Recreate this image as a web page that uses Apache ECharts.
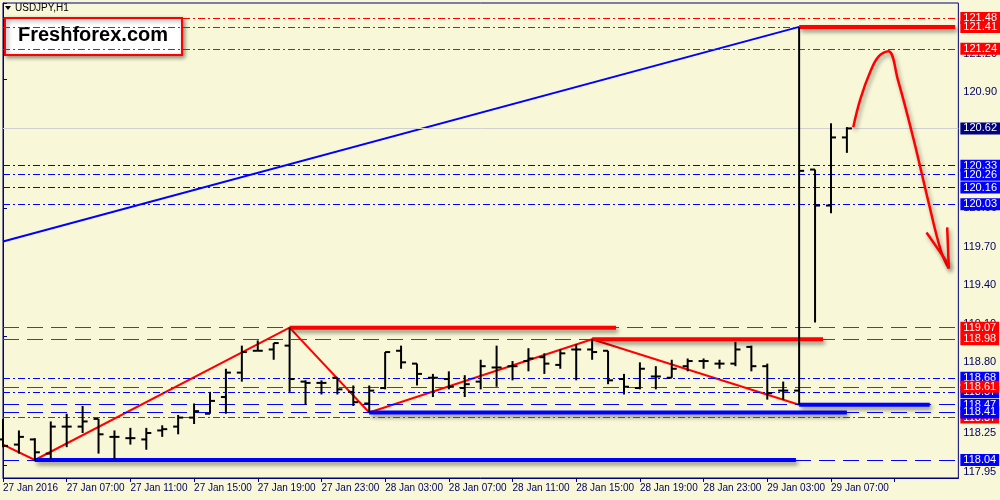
<!DOCTYPE html>
<html><head><meta charset="utf-8">
<script src="https://cdn.jsdelivr.net/npm/echarts@6/dist/echarts.min.js"></script>
<style>html,body{margin:0;padding:0;background:#f8f8d8}#c{width:1000px;height:500px}</style>
</head><body><div id="c"></div>
<script>
// bar index (hours from 27 Jan 03:00), open, high, low, close
const bars = [
[0,118.20,118.36,118.14,118.15],[1,118.16,118.27,118.09,118.22],[2,118.20,118.21,118.03,118.10],
[3,118.09,118.34,118.05,118.30],[4,118.30,118.40,118.14,118.30],[5,118.30,118.46,118.25,118.34],
[6,118.36,118.36,118.09,118.24],[7,118.22,118.27,118.05,118.22],[8,118.21,118.29,118.16,118.21],
[9,118.20,118.29,118.12,118.25],[10,118.27,118.31,118.22,118.28],[11,118.30,118.39,118.24,118.37],
[12,118.37,118.48,118.32,118.42],[13,118.40,118.57,118.40,118.50],[14,118.53,118.75,118.40,118.72],
[15,118.72,118.93,118.65,118.88],[16,118.89,118.97,118.89,118.89],[17,118.90,118.95,118.82,118.95],
[18,118.93,119.07,118.57,118.67],[19,118.65,118.66,118.47,118.64],[20,118.64,118.66,118.55,118.64],
[21,118.68,118.68,118.55,118.59],[22,118.57,118.62,118.46,118.49],[23,118.48,118.62,118.41,118.58],
[24,118.60,118.88,118.59,118.88],[25,118.89,118.93,118.75,118.80],[26,118.79,118.79,118.62,118.71],
[27,118.68,118.71,118.53,118.68],[28,118.67,118.73,118.59,118.61],[29,118.60,118.70,118.53,118.63],
[30,118.65,118.82,118.59,118.77],[31,118.76,118.93,118.61,118.76],[32,118.77,118.81,118.66,118.77],
[33,118.81,118.91,118.73,118.83],[34,118.84,118.87,118.71,118.79],[35,118.78,118.90,118.75,118.87],
[36,118.90,118.94,118.66,118.90],[37,118.90,118.98,118.82,118.88],[38,118.89,118.89,118.63,118.66],
[39,118.67,118.71,118.55,118.61],[40,118.60,118.80,118.59,118.75],[41,118.69,118.77,118.59,118.69],
[42,118.68,118.82,118.68,118.75],[43,118.77,118.83,118.73,118.81],[44,118.81,118.83,118.75,118.81],
[45,118.79,118.82,118.75,118.79],[46,118.79,118.96,118.77,118.90],[47,118.92,118.93,118.73,118.77],
[48,118.77,118.79,118.51,118.56],[49,118.58,118.65,118.51,118.58],[50,118.58,121.41,118.47,120.29],
[51,120.30,120.30,119.11,120.02],[52,120.02,120.66,119.96,120.55],[53,120.55,120.63,120.43,120.62]
];
const xTickLabels = ["27 Jan 2016","27 Jan 07:00","27 Jan 11:00","27 Jan 15:00","27 Jan 19:00","27 Jan 23:00","28 Jan 03:00","28 Jan 07:00","28 Jan 11:00","28 Jan 15:00","28 Jan 19:00","28 Jan 23:00","29 Jan 03:00","29 Jan 07:00"];
const yTickValues = [117.95,118.25,118.55,118.80,119.10,119.40,119.70,120.00,120.30,120.60,120.90,121.20];
// level, colour, style
const levels = [
[121.48,'r','dd'],[121.41,'r','dd'],[121.24,'r','dd'],[120.62,'g','solid'],
[120.33,'b','dd'],[120.26,'b','dd'],[120.16,'b','dd'],[120.03,'b','dd'],
[119.07,'r','dash'],[118.98,'r','dash'],[118.68,'b','dd'],[118.57,'b','dd'],[118.61,'r','dash'],
[118.37,'r','dd'],[118.47,'b','dash'],[118.41,'b','dash'],[118.04,'b','dash']
];
const zigzag = [[0,118.16],[2,118.04],[18,119.07],[23,118.41],[37,118.98],[50,118.47]];
const trendLine = [[0,119.74],[50,121.41]];
// thick horizontal segments [x0,x1,price,colour]
const segments = [[18,38.5,119.07,'r'],[37,51.5,118.98,'r'],[50,59.8,121.41,'r'],
[23,53,118.41,'b'],[2,49.8,118.04,'b'],[50,58.2,118.47,'b']];
const arrowCurve = [[53.4,120.63],[53.85,120.85],[54.5,121.07],[55.0,121.18],[55.6,121.22],[56.2,121.00],[57.2,120.53],[58.1,120.06],[58.9,119.67],[59.4,119.53]];
const arrowHeadA = [[58.0,119.81],[59.4,119.56]];
const arrowHeadB = [[59.3,119.85],[59.4,119.53]];

const C = {r:'#ff0000', b:'#0000ff', g:'#d0d0d0'};
const F = 'Liberation Sans';
const chart = echarts.init(document.getElementById('c'));
const series = [];
series.push({type:'custom', z:5, data:bars, encode:{x:0,y:[1,2,3,4]},
 renderItem:function(p,api){
  const x=api.value(0);
  const o=api.coord([x,api.value(1)]), h=api.coord([x,api.value(2)]), l=api.coord([x,api.value(3)]), c=api.coord([x,api.value(4)]);
  const st={stroke:'#000',lineWidth:2};
  return {type:'group',children:[
   {type:'line',shape:{x1:h[0],y1:h[1],x2:l[0],y2:l[1]},style:st},
   {type:'line',shape:{x1:o[0]-5,y1:o[1],x2:o[0],y2:o[1]},style:st},
   {type:'line',shape:{x1:c[0],y1:c[1],x2:c[0]+5,y2:c[1]},style:st}]};
 }});
series.push({type:'line', data:[], markLine:{symbol:'none',silent:true,animation:false,
 data:levels.map(l=>({yAxis:l[0],lineStyle:{color:C[l[1]],width:1,type:l[2]==='dd'?[7,3,2,3]:(l[2]==='dash'?[16,8]:'solid')},
   label:{show:true,position:'end',formatter:l[0].toFixed(2),color:'#fff',fontFamily:F,fontSize:11,
     backgroundColor:l[1]==='g'?'#000080':C[l[1]],padding:[1,3,0,3],distance:2}}))}});
series.push({type:'line',data:trendLine,symbol:'none',lineStyle:{color:'#0000ff',width:2},z:3});
series.push({type:'line',data:zigzag,symbol:'none',lineStyle:{color:'#ff0000',width:2},z:4});
segments.forEach(s=>series.push({type:'line',data:[[s[0],s[2]],[s[1],s[2]]],symbol:'none',z:4,
 lineStyle:{color:C[s[3]],width:4,shadowColor:'rgba(0,0,0,0.45)',shadowBlur:4,shadowOffsetX:2,shadowOffsetY:3}}));
[arrowCurve,arrowHeadA,arrowHeadB].forEach(a=>series.push({type:'line',data:a,symbol:'none',smooth:0.4,z:6,
 lineStyle:{color:'#ff0000',width:2.5,shadowColor:'rgba(0,0,0,0.4)',shadowBlur:4,shadowOffsetX:2,shadowOffsetY:3}}));

chart.setOption({
 backgroundColor:'#f8f8d8', animation:false,
 grid:{left:3,right:40,top:3,bottom:22,show:true,borderColor:'#00007f',borderWidth:1,backgroundColor:'#f8f8d8'},
 xAxis:{type:'value',min:0,max:60,interval:4,splitLine:{show:false},
  axisLine:{lineStyle:{color:'#00007f'}},axisTick:{show:true,length:4,lineStyle:{color:'#00007f'}},
  axisLabel:{align:'left',margin:5,color:'#000060',fontFamily:F,fontSize:10,showMaxLabel:false,
   formatter:v=>xTickLabels[v/4]||''}},
 yAxis:{type:'value',position:'right',min:117.90,max:121.596,splitLine:{show:false},
  axisLine:{show:true,lineStyle:{color:'#00007f'}},
  axisTick:{show:true,length:4,lineStyle:{color:'#00007f'}},
  axisLabel:{customValues:yTickValues,formatter:v=>v.toFixed(2),color:'#000060',fontFamily:F,fontSize:11,margin:5}},
 graphic:[
  {type:'polygon',shape:{points:[[5,6],[11,6],[8,10]]},style:{fill:'#000'}},
  {type:'text',left:15,top:3,style:{text:'USDJPY,H1',font:'10px '+F,fill:'#000'}},
  {type:'rect',shape:{x:5,y:18,width:177,height:37},style:{fill:'#fff',stroke:'#ff0000',lineWidth:2,shadowColor:'rgba(0,0,0,0.4)',shadowBlur:4,shadowOffsetX:2,shadowOffsetY:2}},
  {type:'text',left:18,top:25,style:{text:'Freshforex.com',font:'bold 20px '+F,fill:'#000'}}
 ],
 series:series
});
</script></body></html>
